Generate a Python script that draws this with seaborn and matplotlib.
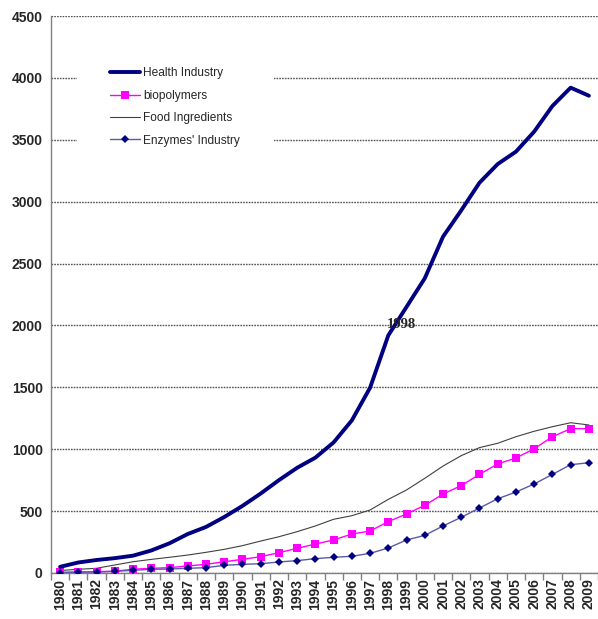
import matplotlib
matplotlib.use("Agg")
import matplotlib.pyplot as plt
import seaborn as sns
import pandas as pd

# Market series, 1980-2009
years = list(range(1980, 2010))
health_industry = [50, 85, 105, 120, 140, 182, 240, 315, 372, 452, 542, 642, 750, 850,
                   932, 1055, 1233, 1497, 1920, 2150, 2381, 2717, 2930, 3153, 3304,
                   3404, 3566, 3773, 3921, 3856]
biopolymers = [5, 8, 10, 15, 30, 38, 43, 57, 70, 91, 110, 132, 164, 199,
               234, 267, 315, 339, 415, 477, 547, 638, 706, 797, 881,
               929, 1004, 1101, 1166, 1166]
food_ingredients = [20, 30, 38, 65, 91, 110, 127, 145, 167, 191, 221, 258, 293, 334,
                    380, 434, 463, 509, 595, 671, 765, 864, 948, 1013, 1048,
                    1101, 1145, 1182, 1214, 1196]
enzymes_industry = [3, 6, 8, 13, 22, 30, 32, 38, 43, 62, 70, 75, 89, 100,
                    116, 127, 135, 159, 202, 267, 304, 380, 450, 525, 600,
                    654, 719, 797, 875, 891]
y_ticks = list(range(0, 5000, 500))
marked_year = 1998

df = pd.DataFrame({
    "year": years,
    "Health Industry": health_industry,
    "biopolymers": biopolymers,
    "Food Ingredients": food_ingredients,
    "Enzymes' Industry": enzymes_industry,
})

sns.set_style("white")
plt.rcParams["font.family"] = ["Liberation Sans", "DejaVu Sans"]

fig = plt.figure(figsize=(5.98, 6.19), dpi=100)
ax = fig.add_axes([51 / 598, 1 - 573 / 619, 1 - 51 / 598, (573 - 16) / 619])

sns.lineplot(data=df, x="year", y="Health Industry", ax=ax, color="#000080",
             linewidth=2.8, label="Health Industry", zorder=5)
sns.lineplot(data=df, x="year", y="biopolymers", ax=ax, color="#ff00ff",
             linewidth=1.0, marker="s", markersize=6, markeredgewidth=0,
             markerfacecolor="#ff00ff", label="biopolymers", zorder=4)
sns.lineplot(data=df, x="year", y="Food Ingredients", ax=ax, color="#404040",
             linewidth=0.8, label="Food Ingredients", zorder=3)
sns.lineplot(data=df, x="year", y="Enzymes' Industry", ax=ax, color="#5a5aaa",
             linewidth=1.0, marker="D", markersize=4.5, markeredgewidth=0,
             markerfacecolor="#000080", label="Enzymes' Industry", zorder=4)

ax.set_xlim(years[0] - 0.5, years[-1] + 0.33)
ax.set_ylim(0, 4500)
ax.set_yticks(y_ticks)
ax.set_xticks(years)
ax.set_xticks([y - 0.5 for y in years] + [years[-1] + 0.5], minor=True)
ax.set_xlabel("")
ax.set_ylabel("")

ax.yaxis.grid(True, linestyle=(0, (1.2, 0.8)), color="#555555", linewidth=1.0)
ax.xaxis.grid(False)
ax.set_axisbelow(True)

for side in ("top", "right"):
    ax.spines[side].set_visible(False)
for side in ("left", "bottom"):
    ax.spines[side].set_color("#808080")
    ax.spines[side].set_linewidth(1.0)

ax.tick_params(axis="y", length=0, pad=6, labelsize=10)
ax.tick_params(axis="x", which="major", length=0, pad=4, labelsize=10, rotation=90)
ax.tick_params(axis="x", which="minor", length=5, width=1.0, color="#808080",
               direction="out", bottom=True)
for lbl in ax.get_xticklabels() + ax.get_yticklabels():
    lbl.set_fontweight("bold")

idx = years.index(marked_year)
ax.text(marked_year + 0.7, health_industry[idx] + 85, str(marked_year),
        ha="center", va="center", fontsize=10.5, fontweight="bold",
        family=["Liberation Serif", "DejaVu Serif"], zorder=6)

leg = ax.legend(loc="upper left", bbox_to_anchor=(77 / 598, 1 - 34 / 619),
                bbox_transform=fig.transFigure, frameon=True, fancybox=False,
                facecolor="white", edgecolor="none", framealpha=1.0,
                fontsize=8.6, borderpad=2.8, handlelength=2.5, handletextpad=0.25,
                labelspacing=0.87, borderaxespad=0)
leg.set_zorder(10)

fig.savefig("out.png", dpi=100)
